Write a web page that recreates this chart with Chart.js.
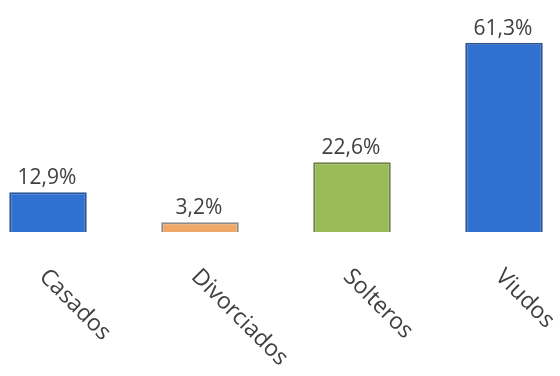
<!DOCTYPE html>
<html>
<head>
<meta charset="utf-8">
<script src="https://cdn.jsdelivr.net/npm/chart.js@4"></script>
<style>
  html, body { margin: 0; padding: 0; background: #ffffff; }
  #wrap { width: 560px; height: 376px; position: relative; }
</style>
</head>
<body>
<div id="wrap"><canvas id="chart"></canvas></div>
<script>
// Estado civil: porcentaje por categoría
const categories = ['Casados', 'Divorciados', 'Solteros', 'Viudos'];
const percentages = [12.9, 3.2, 22.6, 61.3];
const fillColors = ['#3070D0', '#F0A868', '#9BBB59', '#3070D0'];
const edgeColors = ['#2F5597', '#8C8C8C', '#6E7F4A', '#2F5597'];

const FONT = '"Open Sans", "Noto Sans", sans-serif';
const TEXT_COLOR = '#404040';

const fmt = v => v.toFixed(1).replace('.', ',') + '%';

// Porcentajes sobre cada barra
const valueLabels = {
  id: 'valueLabels',
  afterDatasetsDraw(chart) {
    const ctx = chart.ctx;
    const meta = chart.getDatasetMeta(0);
    ctx.save();
    ctx.font = '21px ' + FONT;
    ctx.fillStyle = TEXT_COLOR;
    ctx.textAlign = 'center';
    ctx.textBaseline = 'alphabetic';
    meta.data.forEach((bar, i) => {
      ctx.fillText(fmt(percentages[i]), bar.x - 1, bar.y - 8);
    });
    ctx.restore();
  }
};

// Etiquetas de categoría inclinadas hacia abajo
const slantedLabels = {
  id: 'slantedLabels',
  afterDraw(chart) {
    const ctx = chart.ctx;
    const xScale = chart.scales.x;
    const top = chart.chartArea.bottom + 41;
    ctx.save();
    ctx.font = '23px ' + FONT;
    ctx.fillStyle = TEXT_COLOR;
    ctx.textAlign = 'left';
    ctx.textBaseline = 'middle';
    categories.forEach((label, i) => {
      const x = xScale.getPixelForTick(i);
      ctx.save();
      ctx.translate(x - 5, top);
      ctx.rotate(Math.PI / 4);
      ctx.fillText(label, 0, 0);
      ctx.restore();
    });
    ctx.restore();
  }
};

new Chart(document.getElementById('chart'), {
  type: 'bar',
  data: {
    labels: categories,
    datasets: [{
      data: percentages,
      backgroundColor: fillColors,
      borderColor: edgeColors,
      borderWidth: 2,
      categoryPercentage: 1,
      barPercentage: 0.51,
      clip: false
    }]
  },
  options: {
    responsive: true,
    maintainAspectRatio: false,
    animation: false,
    devicePixelRatio: 1,
    layout: { padding: { top: 16, bottom: 144, left: 48, right: 56 } },
    plugins: {
      legend: { display: false },
      tooltip: { enabled: false }
    },
    scales: {
      x: { display: false, offset: false },
      y: { display: false, min: 0, max: 70 }
    }
  },
  plugins: [valueLabels, slantedLabels]
});
</script>
</body>
</html>
